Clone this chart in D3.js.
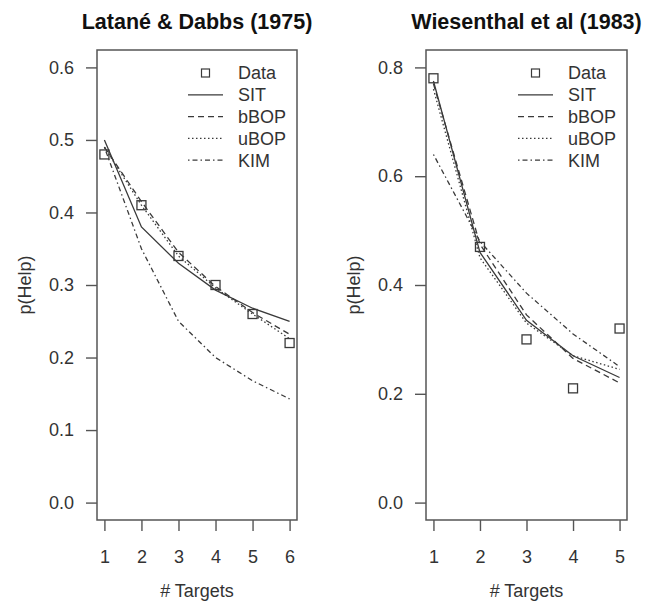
<!DOCTYPE html>
<html>
<head>
<meta charset="utf-8">
<script src="https://cdn.jsdelivr.net/npm/d3@7"></script>
<style>
  body { margin: 0; background: #fff; }
  svg { font-family: "Liberation Sans", Arial, sans-serif; }
</style>
</head>
<body>
<script>
// Latane & Dabbs (1975)
const ldTargets = [1, 2, 3, 4, 5, 6];
const ldData = [0.48, 0.41, 0.34, 0.30, 0.26, 0.22];
const ldSIT  = [0.50, 0.38, 0.33, 0.293, 0.268, 0.25];
const ldBBOP = [0.49, 0.415, 0.345, 0.298, 0.262, 0.232];
const ldUBOP = [0.49, 0.41, 0.34, 0.296, 0.26, 0.226];
const ldKIM  = [0.49, 0.35, 0.25, 0.20, 0.168, 0.143];
const ldYTicks = [0, 0.1, 0.2, 0.3, 0.4, 0.5, 0.6];

// Wiesenthal et al (1983)
const wTargets = [1, 2, 3, 4, 5];
const wData = [0.78, 0.47, 0.30, 0.21, 0.32];
const wSIT  = [0.775, 0.46, 0.335, 0.27, 0.23];
const wBBOP = [0.77, 0.475, 0.345, 0.265, 0.22];
const wUBOP = [0.76, 0.45, 0.33, 0.27, 0.245];
const wKIM  = [0.64, 0.48, 0.385, 0.31, 0.25];
const wYTicks = [0, 0.2, 0.4, 0.6, 0.8];

const legendLabels = ["Data", "SIT", "bBOP", "uBOP", "KIM"];
const dashes = { SIT: null, bBOP: "6,4", uBOP: "1.5,2.5", KIM: "1.5,3,5,3" };

const w = 656, h = 602;
const svg = d3.select("body").append("svg")
    .attr("width", w)
    .attr("height", h);

const ink = "#3a3a3a";

function panel(opts) {
    const n = opts.targets.length;
    const xpad = (opts.targets[n - 1] - opts.targets[0]) * 0.04;
    const ymax = d3.max(opts.yTicks);
    // R style 4% axis expansion
    const x = d3.scaleLinear()
        .domain([opts.targets[0] - xpad, opts.targets[n - 1] + xpad])
        .range([opts.left, opts.right]);
    const y = d3.scaleLinear()
        .domain([-ymax * 0.04, ymax * 1.04])
        .range([520, 50]);

    const g = svg.append("g");

    // Title
    g.append("text")
        .attr("x", (opts.left + opts.right) / 2)
        .attr("y", 29)
        .attr("text-anchor", "middle")
        .attr("font-size", 21.5)
        .attr("font-weight", "bold")
        .attr("fill", "#111")
        .text(opts.title);

    // Y axis
    const yAxis = d3.axisLeft(y)
        .tickValues(opts.yTicks)
        .tickFormat(d3.format(".1f"))
        .tickSize(11)
        .tickPadding(12);
    const yg = g.append("g")
        .attr("transform", `translate(${opts.left},0)`)
        .call(yAxis);

    // X axis
    const xAxis = d3.axisBottom(x)
        .tickValues(opts.targets)
        .tickFormat(d3.format("d"))
        .tickSize(11)
        .tickPadding(19);
    const xg = g.append("g")
        .attr("transform", "translate(0,520)")
        .call(xAxis);

    [yg, xg].forEach(a => {
        a.select(".domain").remove();
        a.selectAll(".tick line").attr("stroke", "#555").attr("stroke-width", 1.4);
        a.selectAll(".tick text")
            .attr("font-size", 18)
            .attr("fill", "#333")
            .attr("font-family", "Liberation Sans, Arial, sans-serif");
    });

    // Box
    g.append("rect")
        .attr("x", opts.left)
        .attr("y", 50)
        .attr("width", opts.right - opts.left)
        .attr("height", 470)
        .attr("fill", "none")
        .attr("stroke", "#555")
        .attr("stroke-width", 1.5);

    // Axis labels
    g.append("text")
        .attr("x", (opts.left + opts.right) / 2)
        .attr("y", 597)
        .attr("text-anchor", "middle")
        .attr("font-size", 18)
        .attr("fill", "#333")
        .text("# Targets");
    g.append("text")
        .attr("transform", `translate(${opts.left - 66},285) rotate(-90)`)
        .attr("text-anchor", "middle")
        .attr("font-size", 18)
        .attr("fill", "#333")
        .text("p(Help)");

    // Model lines
    const line = d3.line()
        .x((d, i) => x(opts.targets[i]))
        .y(d => y(d));
    const models = [
        ["SIT", opts.sit], ["bBOP", opts.bbop], ["uBOP", opts.ubop], ["KIM", opts.kim]
    ];
    models.forEach(([name, vals]) => {
        g.append("path")
            .datum(vals)
            .attr("d", line)
            .attr("fill", "none")
            .attr("stroke", ink)
            .attr("stroke-width", 1.3)
            .attr("stroke-dasharray", dashes[name]);
    });

    // Data squares
    const s = 9;
    g.selectAll("rect.pt")
        .data(opts.data)
        .enter()
        .append("rect")
        .attr("class", "pt")
        .attr("x", (d, i) => x(opts.targets[i]) - s / 2)
        .attr("y", d => y(d) - s / 2)
        .attr("width", s)
        .attr("height", s)
        .attr("fill", "none")
        .attr("stroke", ink)
        .attr("stroke-width", 1.3);

    // Legend (no box)
    const lx = opts.right - 109;
    const rowY = i => 73 + i * 21.8;
    legendLabels.forEach((lab, i) => {
        if (lab === "Data") {
            g.append("rect")
                .attr("x", lx + 17.5 - 4)
                .attr("y", rowY(i) - 4)
                .attr("width", 8)
                .attr("height", 8)
                .attr("fill", "none")
                .attr("stroke", ink)
                .attr("stroke-width", 1.2);
        } else {
            g.append("line")
                .attr("x1", lx)
                .attr("x2", lx + 35)
                .attr("y1", rowY(i))
                .attr("y2", rowY(i))
                .attr("stroke", ink)
                .attr("stroke-width", 1.3)
                .attr("stroke-dasharray", dashes[lab]);
        }
        g.append("text")
            .attr("x", lx + 50)
            .attr("y", rowY(i))
            .attr("dy", "0.36em")
            .attr("font-size", 18)
            .attr("fill", "#333")
            .text(lab);
    });
}

panel({
    title: "Latané & Dabbs (1975)",
    left: 97, right: 297,
    targets: ldTargets, yTicks: ldYTicks,
    data: ldData, sit: ldSIT, bbop: ldBBOP, ubop: ldUBOP, kim: ldKIM
});

panel({
    title: "Wiesenthal et al (1983)",
    left: 426, right: 627,
    targets: wTargets, yTicks: wYTicks,
    data: wData, sit: wSIT, bbop: wBBOP, ubop: wUBOP, kim: wKIM
});
</script>
</body>
</html>
